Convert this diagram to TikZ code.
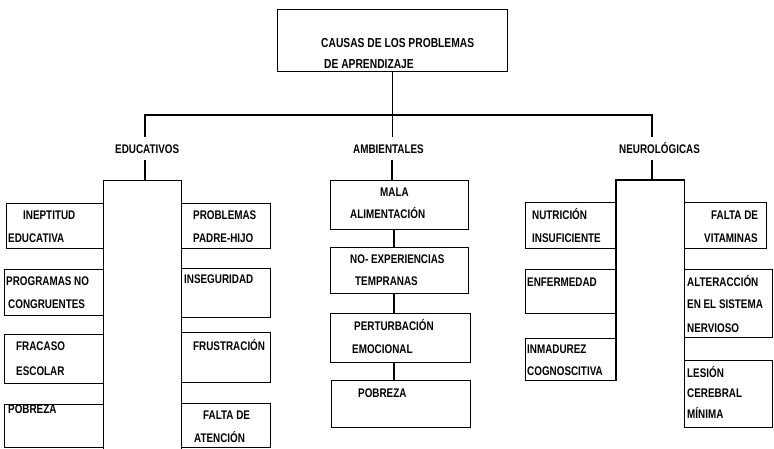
\documentclass[tikz,border=0pt]{standalone}
\usepackage{fontspec}
\setmainfont{Liberation Sans}[FakeStretch=0.79]
\begin{document}
\begin{tikzpicture}[x=1pt,y=-1pt,
  box/.style={draw,line width=1.3pt,inner sep=0pt,anchor=north west},
  col/.style={inner sep=0pt,anchor=north west},
  txt/.style={anchor=base west,inner sep=0pt,font=\fontsize{12.5}{14}\selectfont\bfseries},
  ttl/.style={anchor=base west,inner sep=0pt,font=\fontsize{13}{15}\selectfont\bfseries},
  lab/.style={anchor=base west,inner xsep=0pt,inner ysep=7pt,text height=9pt,text depth=0pt,font=\fontsize{12.5}{14}\selectfont\bfseries},
  conn/.style={line width=1.2pt}]
\useasboundingbox (0,0) rectangle (774,448);
\newcommand{\bx}[5]{\node[box,minimum width=#3pt-#1pt,minimum height=#4pt-#2pt] (#5) at (#1,#2) {};}
\newcommand{\tx}[4]{\node[txt] (#1) at (#2,#3) {#4};}
% top box
\bx{277}{9}{507}{71}{top}
\node[ttl] (t0a) at (321,47) {CAUSAS DE LOS PROBLEMAS};
\node[ttl] (t0b) at (324,68) {DE APRENDIZAJE};
% labels
\node[lab] (edu) at (115,153) {EDUCATIVOS};
\node[lab] (amb) at (353,153) {AMBIENTALES};
\node[lab] (neu) at (619,153) {NEUROLÓGICAS};
\coordinate (hl) at (392,115);
\coordinate (eline) at (145,115);
\coordinate (nline) at (652,115);
\coordinate (aline) at (394,0);
% educativos
\bx{103}{180}{181}{470}{ecol}
\bx{6}{203}{103}{248}{el1}
\bx{4}{269}{103}{315}{el2}
\bx{4}{334}{103}{383}{el3}
\bx{4}{404}{103}{447}{el4}
\bx{181}{203}{270}{248}{er1}
\bx{181}{268}{270}{317}{er2}
\bx{181}{332}{270}{382}{er3}
\bx{181}{403}{270}{447}{er4}
\tx{t1}{23}{219}{INEPTITUD}
\tx{t2}{8}{242}{EDUCATIVA}
\tx{t3}{6}{285}{PROGRAMAS NO}
\tx{t4}{8}{308}{CONGRUENTES}
\tx{t5}{16}{350}{FRACASO}
\tx{t6}{16}{375}{ESCOLAR}
\tx{t7}{8}{413}{POBREZA}
\tx{t8}{193}{219}{PROBLEMAS}
\tx{t9}{193}{242}{PADRE-HIJO}
\tx{t10}{184}{283}{INSEGURIDAD}
\tx{t11}{193}{350}{FRUSTRACIÓN}
\tx{t12}{203}{419}{FALTA DE}
\tx{t13}{194}{442}{ATENCIÓN}
% ambientales
\bx{330}{180}{468}{229}{a1}
\bx{330}{247}{468}{293}{a2}
\bx{330}{313}{470}{362}{a3}
\bx{331}{380}{470}{427}{a4}
\tx{t14}{380}{196}{MALA}
\tx{t15}{350}{218}{ALIMENTACIÓN}
\tx{t16}{350}{263}{NO- EXPERIENCIAS}
\tx{t17}{355}{285}{TEMPRANAS}
\tx{t18}{354}{330}{PERTURBACIÓN}
\tx{t19}{352}{353}{EMOCIONAL}
\tx{t20}{358}{397}{POBREZA}
% neurologicas
\node[col,minimum width=68pt,minimum height=247pt] (ncol) at (616,180) {};
\bx{525}{202}{616}{248}{nl1}
\bx{525}{269}{616}{313}{nl2}
\bx{525}{338}{616}{380}{nl3}
\bx{684}{202}{766}{248}{nr1}
\bx{684}{269}{772}{337}{nr2}
\bx{684}{360}{772}{427}{nr3}
\tx{t21}{532}{219}{NUTRICIÓN}
\tx{t22}{532}{242}{INSUFICIENTE}
\tx{t23}{527}{286}{ENFERMEDAD}
\tx{t24}{527}{353}{INMADUREZ}
\tx{t25}{527}{375}{COGNOSCITIVA}
\tx{t26}{711}{219}{FALTA DE}
\tx{t27}{704}{242}{VITAMINAS}
\tx{t28}{687}{286}{ALTERACCIÓN}
\tx{t29}{687}{308}{EN EL SISTEMA}
\tx{t30}{687}{332}{NERVIOSO}
\tx{t31}{687}{377}{LESIÓN}
\tx{t32}{687}{397}{CEREBRAL}
\tx{t33}{687}{418}{MÍNIMA}
\draw[line width=1.3pt] (ncol.west |- nl3.south) -- (ncol.north west) -- (ncol.north east) -- (ncol.south east);
% connectors
\draw[conn] (top.south) -- (top.south |- amb.north);
\draw[conn] (eline |- edu.north) |- (hl) -| (nline |- neu.north);
\draw[conn] (eline |- edu.south) -- (eline |- ecol.north);
\draw[conn] (hl |- amb.south) -- (hl |- a1.north);
\draw[conn] (nline |- neu.south) -- (nline |- ncol.north);
\draw[conn] (aline |- a1.south) -- (aline |- a2.north);
\draw[conn] (aline |- a2.south) -- (aline |- a3.north);
\draw[conn] (aline |- a3.south) -- (aline |- a4.north);
\end{tikzpicture}
\end{document}
